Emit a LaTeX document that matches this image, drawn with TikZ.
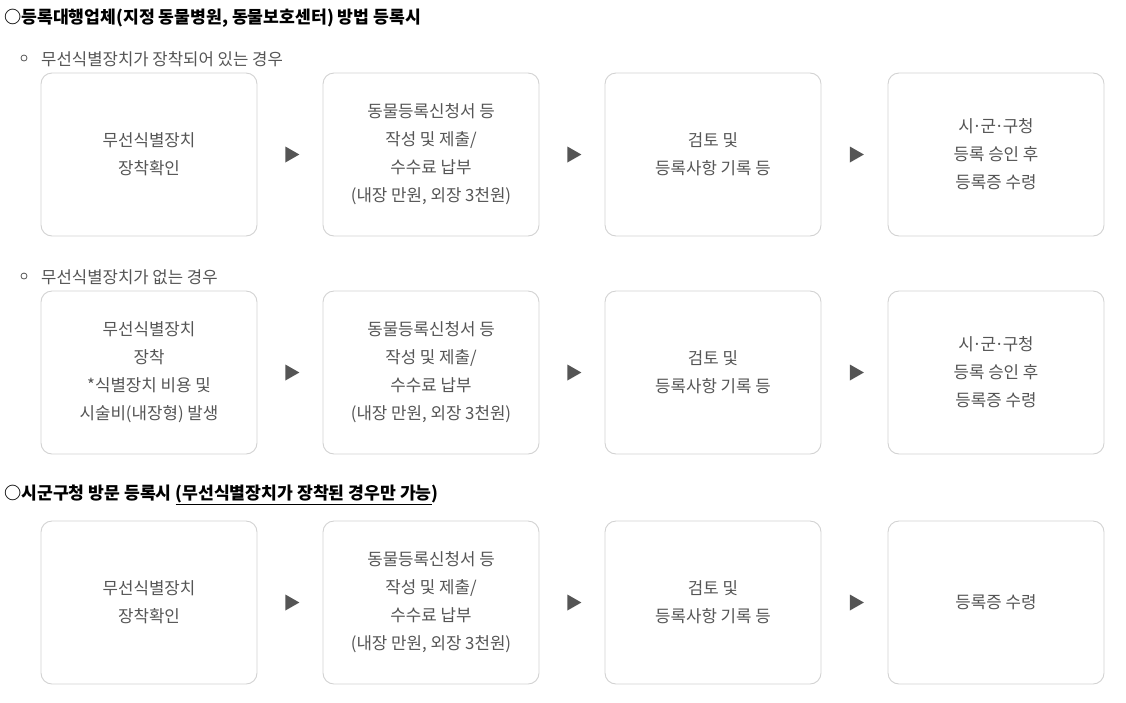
\documentclass[tikz,border=0pt]{standalone}
\usepackage{fontspec}
\setmainfont{Noto Sans CJK KR}
\usetikzlibrary{shapes.geometric}
\definecolor{txt}{HTML}{555555}
\definecolor{bord}{HTML}{D2D2D2}
\definecolor{arr}{HTML}{555555}
\newcommand{\mdt}{\kern-0.08em·\kern-0.08em}
\tikzset{
  stepbox/.style={draw=bord, line width=0.9pt, rounded corners=11pt, minimum width=216pt, minimum height=163pt, text=txt, align=center, font=\fontsize{16.8}{28}\selectfont, inner sep=0pt},
  head/.style={anchor=west, inner sep=0pt, font=\fontsize{17.2}{20}\selectfont\bfseries, text=black},
  sub/.style={anchor=west, inner sep=0pt, font=\fontsize{16.7}{20}\selectfont, text=txt},
  bullet/.style={circle, draw=txt, line width=0.8pt, minimum size=6pt, inner sep=0pt},
  tri/.style={isosceles triangle, isosceles triangle apex angle=70, fill=arr, inner sep=0pt, minimum height=14pt, minimum width=16pt, isosceles triangle stretches=true}
}
\begin{document}
\begin{tikzpicture}[x=1pt,y=1pt]
\useasboundingbox[fill=white] (0,0) rectangle (1126,-702);

\node[head] (h1) at (4,-18) {○등록대행업체(지정 동물병원, 동물보호센터) 방법 등록시};

% row 1
\node[bullet] (s1b) at (24,-58) {};
\node[sub] (s1) at (41,-59) {무선식별장치가 장착되어 있는 경우};
\node[stepbox] (a1) at (149,-154.5) {무선식별장치\\장착확인};
\node[stepbox] (a2) at (431,-154.5) {동물등록신청서 등\\작성 및 제출/\\수수료 납부\\(내장 만원, 외장 3천원)};
\node[stepbox] (a3) at (713,-154.5) {검토 및\\등록사항 기록 등};
\node[stepbox] (a4) at (996,-154.5) {시\mdt 군\mdt 구청\\등록 승인 후\\등록증 수령};
\path (a1) -- (a2) node[midway,tri] (t11) {};
\path (a2) -- (a3) node[midway,tri] (t12) {};
\path (a3) -- (a4) node[midway,tri] (t13) {};

% row 2
\node[bullet] (s2b) at (24,-276) {};
\node[sub] (s2) at (41,-277) {무선식별장치가 없는 경우};
\node[stepbox] (b1) at (149,-372.5) {무선식별장치\\장착\\*식별장치 비용 및\\시술비(내장형) 발생};
\node[stepbox] (b2) at (431,-372.5) {동물등록신청서 등\\작성 및 제출/\\수수료 납부\\(내장 만원, 외장 3천원)};
\node[stepbox] (b3) at (713,-372.5) {검토 및\\등록사항 기록 등};
\node[stepbox] (b4) at (996,-372.5) {시\mdt 군\mdt 구청\\등록 승인 후\\등록증 수령};
\path (b1) -- (b2) node[midway,tri] (t21) {};
\path (b2) -- (b3) node[midway,tri] (t22) {};
\path (b3) -- (b4) node[midway,tri] (t23) {};

% row 3
\node[head] (h2) at (4,-495) {○시군구청 방문 등록시 \underline{(무선식별장치가 장착된 경우만 가능})};
\node[stepbox] (c1) at (149,-602.5) {무선식별장치\\장착확인};
\node[stepbox] (c2) at (431,-602.5) {동물등록신청서 등\\작성 및 제출/\\수수료 납부\\(내장 만원, 외장 3천원)};
\node[stepbox] (c3) at (713,-602.5) {검토 및\\등록사항 기록 등};
\node[stepbox] (c4) at (996,-602.5) {등록증 수령};
\path (c1) -- (c2) node[midway,tri] (t31) {};
\path (c2) -- (c3) node[midway,tri] (t32) {};
\path (c3) -- (c4) node[midway,tri] (t33) {};
\end{tikzpicture}
\end{document}
